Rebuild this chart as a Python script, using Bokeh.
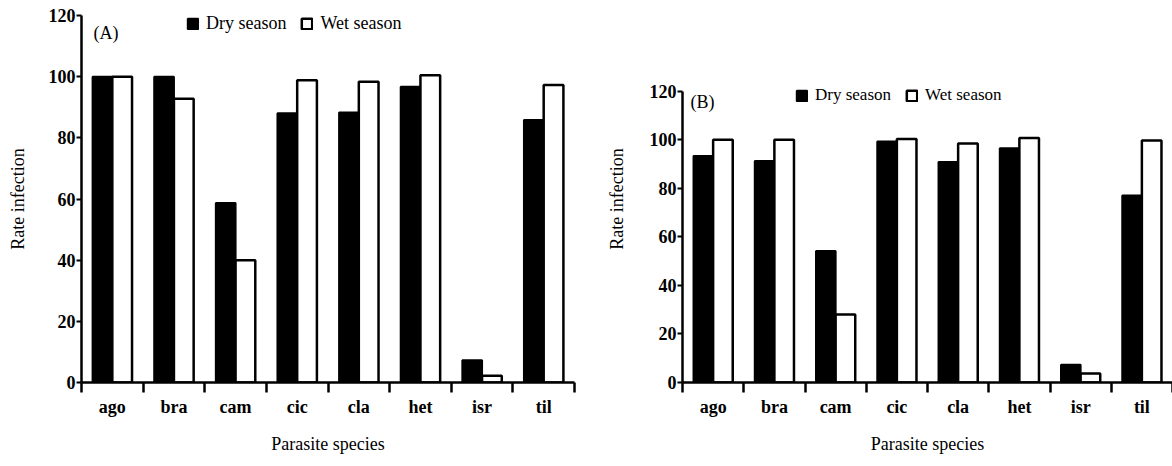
from bokeh.plotting import figure
from bokeh.models import (Range1d, LinearAxis, FixedTicker, Legend,
                          LegendItem, Label, ColumnDataSource, Title)
from bokeh.transform import dodge
from bokeh.layouts import row
from bokeh.embed import file_html
from bokeh.resources import INLINE

# ---- data ----
species = ["ago", "bra", "cam", "cic", "cla", "het", "isr", "til"]
dry_a = [100.0, 100.0, 58.7, 88.0, 88.3, 96.7, 7.3, 85.8]
wet_a = [100.0, 92.8, 40.0, 98.8, 98.3, 100.5, 2.2, 97.3]
dry_b = [93.3, 91.3, 54.2, 99.3, 90.8, 96.5, 7.3, 77.0]
wet_b = [100.0, 100.0, 28.0, 100.3, 98.5, 100.7, 3.7, 99.7]
y_ticks = [0, 20, 40, 60, 80, 100, 120]
series_names = ["Dry season", "Wet season"]
panel_tags = ["(A)", "(B)"]
x_title = "Parasite species"
y_title = "Rate infection"

FONT = "Liberation Serif"


def make_panel(tag, dry, wet, width, height, borders, y_end, legend_xy, tag_xy,
               legend_font, y_title_standoff):
    left, right, top, bottom = borders
    n = len(species)
    centers = [i + 0.5 for i in range(n)]   # slot centre of each species
    edges = list(range(n + 1))               # slot boundaries
    src = ColumnDataSource(dict(species=species, xc=centers, dry=dry, wet=wet))
    p = figure(x_range=Range1d(0, n), y_range=Range1d(0, y_end),
               width=width, height=height,
               output_backend="svg", toolbar_location=None,
               x_axis_location=None, y_axis_location=None,
               min_border_left=left, min_border_right=right,
               min_border_top=top, min_border_bottom=bottom)
    p.outline_line_color = None
    p.background_fill_color = "white"
    p.border_fill_color = "white"
    for g in p.grid:
        g.visible = False

    yax = LinearAxis(ticker=FixedTicker(ticks=y_ticks),
                     bounds=(y_ticks[0], y_ticks[-1]),
                     axis_line_width=2.5, axis_line_color="black",
                     major_tick_out=5, major_tick_in=0, major_tick_line_width=2,
                     minor_tick_line_color=None,
                     major_label_standoff=1,
                     major_label_text_font=FONT, major_label_text_font_size="18px",
                     major_label_text_font_style="bold", major_label_text_color="black",
                     axis_label=y_title, axis_label_text_font=FONT,
                     axis_label_text_font_size="18px",
                     axis_label_text_font_style="normal",
                     axis_label_text_color="black",
                     axis_label_standoff=y_title_standoff)
    p.add_layout(yax, "left")

    xax = LinearAxis(ticker=FixedTicker(ticks=centers, minor_ticks=edges),
                     major_label_overrides={c: s for c, s in zip(centers, species)},
                     axis_line_width=2.5, axis_line_color="black",
                     major_tick_line_color=None, major_tick_out=0, major_tick_in=0,
                     minor_tick_out=10, minor_tick_in=0, minor_tick_line_width=2.5,
                     minor_tick_line_color="black",
                     major_label_standoff=4,
                     major_label_text_font=FONT, major_label_text_font_size="18px",
                     major_label_text_font_style="bold", major_label_text_color="black")
    p.add_layout(xax, "below")

    # x-axis title, centred under the category axis
    p.add_layout(Title(text=x_title, align="center", text_font=FONT,
                       text_font_size="18px", text_font_style="normal",
                       text_color="black", standoff=25, offset=0,
                       vertical_align="bottom"), "below")

    r_dry = p.vbar(x=dodge("xc", -0.16), top="dry", width=0.32,
                   source=src, fill_color="black", line_color="black", line_width=2)
    r_wet = p.vbar(x=dodge("xc", 0.16), top="wet", width=0.32,
                   source=src, fill_color="white", line_color="black", line_width=2.5)

    legend = Legend(items=[LegendItem(label=series_names[0], renderers=[r_dry]),
                           LegendItem(label=series_names[1], renderers=[r_wet])],
                    location=legend_xy, orientation="horizontal",
                    glyph_width=13, glyph_height=13, label_standoff=7, spacing=14,
                    padding=0, margin=0, border_line_color=None,
                    background_fill_alpha=0,
                    label_text_font=FONT, label_text_font_size=legend_font,
                    label_text_color="black")
    p.add_layout(legend)

    p.add_layout(Label(x=tag_xy[0], y=tag_xy[1], x_units="screen", y_units="screen",
                       text=tag, text_font=FONT, text_font_size="18px",
                       text_baseline="middle", text_color="black"))
    return p


# both frames span the same vertical band (15 .. 383 on the page);
# panel B's taller y-range puts its 120 tick lower, as in the original
pa = make_panel(panel_tags[0], dry_a, wet_a, 590, 466, (81, 16, 15, 83), 120,
                (105, 348), (12, 350), "18px", 18)
pb = make_panel(panel_tags[1], dry_b, wet_b, 582, 466, (92, 0, 15, 83), 151.2,
                (113, 277), (8, 281), "17px", 20)

layout = row(pa, pb, spacing=0)
open("out.html", "w").write(file_html(layout, INLINE))
